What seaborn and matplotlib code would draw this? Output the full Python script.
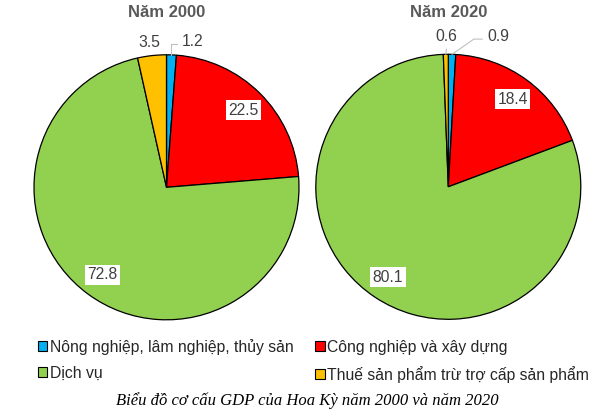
import matplotlib
matplotlib.use("Agg")
import matplotlib.pyplot as plt
import seaborn as sns
import numpy as np

# ---- data ----
categories = ["Nông nghiệp, lâm nghiệp, thủy sản", "Công nghiệp và xây dựng",
              "Dịch vụ", "Thuế sản phẩm trừ trợ cấp sản phẩm"]
years = ["Năm 2000", "Năm 2020"]
values_2000 = [1.2, 22.5, 72.8, 3.5]
values_2020 = [0.9, 18.4, 80.1, 0.6]
caption = "Biểu đồ cơ cấu GDP của Hoa Kỳ năm 2000 và năm 2020"

sns.set_theme(style="white")
plt.rcParams['font.family'] = ['Liberation Sans', 'DejaVu Sans']
palette = sns.color_palette(["#00B0F0", "#FF0000", "#92D050", "#FFC000"])

W, H = 600, 419
fig = plt.figure(figsize=(W / 100, H / 100), dpi=100)
ax = fig.add_axes([0, 0, 1, 1])

def py(y):  # pixel-from-top -> data y
    return H - y

centers = [(166.5, py(187.3)), (448.3, py(186.8))]
radius = 132.5
label_color = "#404040"

# per-small-label placement: (dx, dy in px, ha, connection)
small_layout = {
    (0, 3): dict(dx=-3, dy=13, ha="center", style=None),
    (0, 0): dict(dx=10, dy=13, ha="left", style="angle,angleA=0,angleB=90"),
    (1, 3): dict(dx=1, dy=17.5, ha="center", style="arc3"),
    (1, 0): dict(dx=35, dy=17.5, ha="left", style="angle,angleA=0,angleB=35"),
}

for i, (vals, yr) in enumerate(zip([values_2000, values_2020], years)):
    cx, cy = centers[i]
    wedges, _ = ax.pie(vals, colors=palette, startangle=90, counterclock=False,
                       center=(cx, cy), radius=radius,
                       wedgeprops=dict(edgecolor="black", linewidth=0.9))
    for j, (w, v) in enumerate(zip(wedges, vals)):
        mid = np.deg2rad((w.theta1 + w.theta2) / 2)
        if v > 10:
            tx = cx + 0.82 * radius * np.cos(mid)
            ty = cy + 0.82 * radius * np.sin(mid)
            ax.text(tx, ty, f"{v:.1f}", ha="center", va="center", fontsize=11.3,
                    color=label_color,
                    bbox=dict(boxstyle="square,pad=0.15", fc="white", ec="none"))
        else:
            ex = cx + radius * np.cos(mid)
            ey = cy + radius * np.sin(mid)
            lay = small_layout[(i, j)]
            txy = (ex + lay["dx"], ey + lay["dy"])
            if lay["style"] is None:
                ax.text(*txy, f"{v:.1f}", ha=lay["ha"], va="center", fontsize=11.3,
                        color=label_color)
            else:
                relpos = (0, 0.35) if lay["ha"] == "left" else (0.5, 0)
                ax.annotate(f"{v:.1f}", xy=(ex, ey), xytext=txy,
                            ha=lay["ha"], va="center", fontsize=11.3, color=label_color,
                            arrowprops=dict(arrowstyle="-", color="#BFBFBF", lw=0.8,
                                            connectionstyle=lay["style"],
                                            relpos=relpos, shrinkA=1, shrinkB=0))
    ax.text(cx, py(13), yr, ha="center", va="center", fontsize=12,
            fontweight="bold", color="#595959")

ax.set_xlim(0, W)
ax.set_ylim(0, H)
ax.set_aspect("equal")
ax.axis("off")

# legend: row-wise order with 2 columns
handles = [plt.Rectangle((0, 0), 1, 1, fc=c, ec="black", lw=0.8) for c in palette]
order = [0, 2, 1, 3]
fig.legend([handles[k] for k in order], [categories[k] for k in order],
           ncol=2, frameon=False, fontsize=11.3,
           loc="upper left", bbox_to_anchor=(38 / W, 1 - 339 / H),
           borderpad=0, borderaxespad=0, handlelength=0.6, handleheight=0.6,
           handletextpad=0.15, columnspacing=1.4, labelspacing=0.68)

fig.text(307.5 / W, 1 - 401 / H, caption, ha="center", va="center",
         fontsize=12, style="italic", family=["Liberation Serif", "DejaVu Serif"],
         color="black")

fig.savefig("out.png", dpi=100)
